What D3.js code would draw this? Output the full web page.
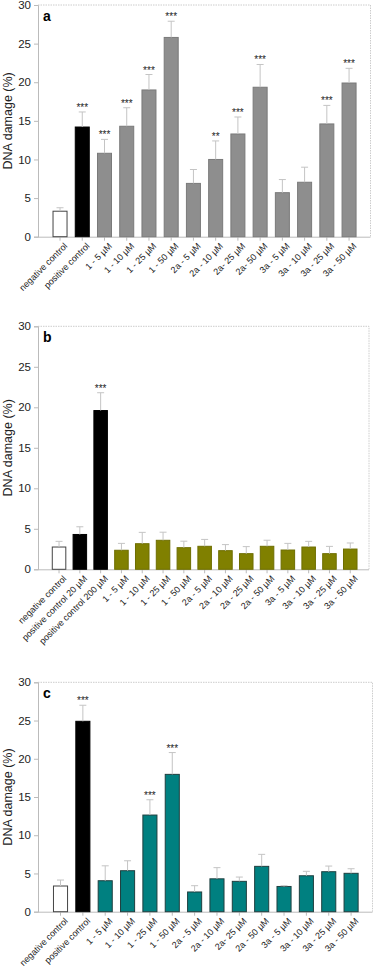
<!DOCTYPE html>
<meta charset="utf-8">
<style>
    body { margin: 0; background: #fff; }
    svg { font-family: "Liberation Sans", Arial, sans-serif; }
    .axis path, .axis line { stroke: #bbb; }
    .axis text { fill: #222; }
    .frame { stroke: #ccc; stroke-dasharray: 1.5 1; fill: none; }
    .err { stroke: #c4c4c4; stroke-width: 1; }
</style>
<svg width="375" height="968"></svg>
<script src="https://cdn.jsdelivr.net/npm/d3@7"></script>
<script>

    // panel a data
    var labelsA = ["negative control", "positive control", "1 - 5 µM", "1 - 10 µM", "1 - 25 µM", "1 - 50 µM",
        "2a - 5 µM", "2a - 10 µM", "2a- 25 µM", "2a- 50 µM", "3a - 5 µM", "3a - 10 µM", "3a - 25 µM", "3a - 50 µM"];
    var valuesA = [3.3, 14.2, 10.8, 14.3, 19.0, 25.8, 6.9, 10.0, 13.3, 19.35, 5.7, 7.05, 14.6, 19.9];
    var errorsA = [0.45, 1.95, 1.8, 2.4, 2.0, 2.1, 1.8, 2.4, 2.2, 2.95, 1.7, 1.95, 2.4, 1.9];
    var starsA = ["", "***", "***", "***", "***", "***", "", "**", "***", "***", "", "", "***", "***"];
    var kindsA = ["neg", "pos", "t", "t", "t", "t", "t", "t", "t", "t", "t", "t", "t", "t"];

    // panel b data
    var labelsB = ["negative control", "positive control 20 µM", "positive control 200 µM", "1 - 5 µM", "1 - 10 µM",
        "1 - 25 µM", "1 - 50 µM", "2a - 5 µM", "2a - 10 µM", "2a - 25 µM", "2a - 50 µM", "3a - 5 µM", "3a - 10 µM",
        "3a - 25 µM", "3a - 50 µM"];
    var valuesB = [2.75, 4.3, 19.6, 2.35, 3.16, 3.58, 2.67, 2.84, 2.3, 1.93, 2.84, 2.38, 2.75, 1.93, 2.5];
    var errorsB = [0.7, 0.95, 2.2, 0.85, 1.4, 1.0, 0.8, 0.85, 0.75, 0.87, 0.75, 0.82, 0.7, 0.9, 0.75];
    var starsB = ["", "", "***", "", "", "", "", "", "", "", "", "", "", "", ""];
    var kindsB = ["neg", "pos", "pos", "t", "t", "t", "t", "t", "t", "t", "t", "t", "t", "t", "t"];

    // panel c data
    var labelsC = ["negative control", "positive control", "1 - 5 µM", "1 - 10 µM", "1 - 25 µM", "1 - 50 µM",
        "2a - 5 µM", "2a - 10 µM", "2a- 25 µM", "2a - 50 µM", "3a - 5 µM", "3a - 10 µM", "3a - 25 µM", "3a - 50 µM"];
    var valuesC = [3.36, 24.9, 4.05, 5.36, 12.64, 17.96, 2.58, 4.3, 3.97, 5.93, 3.3, 4.7, 5.23, 5.02];
    var errorsC = [0.78, 2.1, 1.95, 1.3, 2.0, 2.85, 0.82, 1.46, 0.56, 1.57, 0.1, 0.58, 0.74, 0.6];
    var starsC = ["", "***", "", "", "***", "***", "", "", "", "", "", "", "", ""];
    var kindsC = ["neg", "pos", "t", "t", "t", "t", "t", "t", "t", "t", "t", "t", "t", "t"];

    var yTicks = [0, 5, 10, 15, 20, 25, 30];

    var svg = d3.select("svg");

    function drawPanel(cfg) {
        var g = svg.append("g");
        var data = cfg.labels.map(function (l, i) {
            return {label: l, value: cfg.values[i], err: cfg.errors[i], star: cfg.stars[i], kind: cfg.kinds[i]};
        });

        var x = d3.scaleBand().domain(cfg.labels).range([cfg.bx0, cfg.bx1]).padding(cfg.pad);
        var y = d3.scaleLinear().domain([0, 30]).range([cfg.bottom, cfg.top]);

        // frame top/right
        g.append("path").attr("class", "frame")
            .attr("d", "M" + cfg.left + "," + cfg.top + "H" + cfg.right + "V" + cfg.bottom);

        // y axis
        var ya = g.append("g").attr("class", "axis")
            .attr("transform", "translate(" + cfg.left + ",0)")
            .call(d3.axisLeft(y).tickValues(yTicks).tickSize(4).tickPadding(3));
        ya.selectAll("text").style("font-size", "11.5px");

        // x axis
        var xa = g.append("g").attr("class", "axis")
            .attr("transform", "translate(0," + cfg.bottom + ")")
            .call(d3.axisBottom(x).tickSize(4).tickSizeOuter(0));
        xa.select(".domain").attr("d", "M" + cfg.left + ",0.5H" + cfg.right);
        xa.selectAll("text")
            .style("font-size", "9px")
            .style("text-anchor", "end")
            .attr("dx", "0")
            .attr("dy", "0")
            .attr("transform", "translate(3,5) rotate(-45)");

        // bars
        g.selectAll("rect.bar").data(data).enter().append("rect")
            .attr("class", "bar")
            .attr("x", function (d) { return x(d.label); })
            .attr("width", x.bandwidth())
            .attr("y", function (d) { return y(d.value); })
            .attr("height", function (d) { return y(0) - y(d.value); })
            .attr("fill", function (d) { return d.kind === "neg" ? "#fff" : d.kind === "pos" ? "#000" : cfg.color; })
            .attr("stroke", function (d) { return d.kind === "neg" ? "#444" : d.kind === "pos" ? "#000" : cfg.stroke; })
            .attr("stroke-width", 1);

        // error bars (upper only)
        var eb = g.selectAll("g.eb").data(data).enter().append("g").attr("class", "eb");
        eb.append("line").attr("class", "err")
            .attr("x1", function (d) { return x(d.label) + x.bandwidth() / 2; })
            .attr("x2", function (d) { return x(d.label) + x.bandwidth() / 2; })
            .attr("y1", function (d) { return y(d.value); })
            .attr("y2", function (d) { return y(d.value + d.err); });
        eb.append("line").attr("class", "err")
            .attr("x1", function (d) { return x(d.label) + x.bandwidth() / 2 - 3.5; })
            .attr("x2", function (d) { return x(d.label) + x.bandwidth() / 2 + 3.5; })
            .attr("y1", function (d) { return y(d.value + d.err); })
            .attr("y2", function (d) { return y(d.value + d.err); });

        // significance stars
        g.selectAll("text.star").data(data.filter(function (d) { return d.star; })).enter().append("text")
            .attr("class", "star")
            .attr("x", function (d) { return x(d.label) + x.bandwidth() / 2; })
            .attr("y", function (d) { return y(d.value + d.err) - 1; })
            .attr("text-anchor", "middle")
            .style("font-size", "10px")
            .attr("fill", "#222")
            .text(function (d) { return d.star; });

        // panel letter
        g.append("text")
            .attr("x", cfg.left + 5)
            .attr("y", cfg.top + 16)
            .style("font-size", "14px")
            .style("font-weight", "bold")
            .text(cfg.letter);

        // y title
        g.append("text")
            .attr("transform", "translate(12," + ((cfg.top + cfg.bottom) / 2) + ") rotate(-90)")
            .attr("text-anchor", "middle")
            .style("font-size", "12.5px")
            .attr("fill", "#222")
            .text("DNA damage (%)");
    }

    drawPanel({letter: "a", labels: labelsA, values: valuesA, errors: errorsA, stars: starsA, kinds: kindsA,
        left: 38, right: 370.5, top: 5, bottom: 236.7, bx0: 44.8, bx1: 364.3, pad: 0.37,
        color: "#8e8e8e", stroke: "#7a7a7a"});

    drawPanel({letter: "b", labels: labelsB, values: valuesB, errors: errorsB, stars: starsB, kinds: kindsB,
        left: 38, right: 369, top: 326.3, bottom: 569.3, bx0: 45, bx1: 364.3, pad: 0.35,
        color: "#808000", stroke: "#6e6e00"});

    drawPanel({letter: "c", labels: labelsC, values: valuesC, errors: errorsC, stars: starsC, kinds: kindsC,
        left: 38, right: 372.5, top: 682.3, bottom: 911.7, bx0: 45.2, bx1: 366.4, pad: 0.37,
        color: "#008080", stroke: "#1f3f3f"});

</script>
